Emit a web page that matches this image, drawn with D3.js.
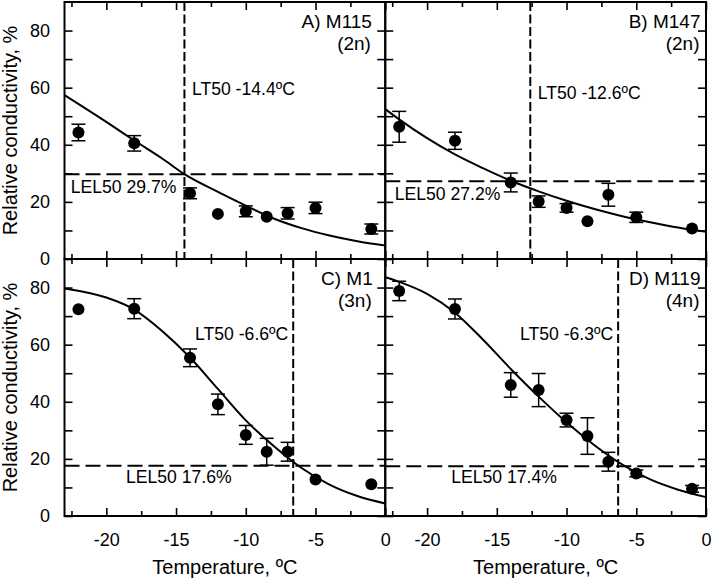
<!DOCTYPE html>
<html><head><meta charset="utf-8">
<script src="https://cdn.jsdelivr.net/npm/d3@7"></script>
<style>
body{margin:0;background:#fff}
svg{display:block}
text{font-family:"Liberation Sans",Arial,sans-serif;fill:#000}
</style>
</head><body>
<svg id="chart" width="714" height="578"></svg>
<script>
// ---------- data ----------
const temps = [-22, -18, -14, -12, -10, -8.5, -7, -5, -1];

const meanA = [44.3, 40.5, 23.0, 15.8, 16.7, 14.8, 16.0, 17.9, 10.5];
const errA  = [2.9, 2.7, 1.9, 0, 1.9, 0, 2.0, 2.0, 1.75];
const meanB = [46.3, 41.4, 26.8, 20.1, 17.9, 13.2, 22.5, 14.6, 10.7];
const errB  = [5.4, 3.0, 3.3, 2.0, 1.5, 0, 4.0, 1.8, 0];
const meanC = [72.4, 72.6, 55.4, 39.1, 28.4, 22.5, 22.5, 12.8, 11.1];
const errC  = [0, 3.5, 3.1, 3.6, 3.3, 4.7, 3.3, 0, 0];
const meanD = [78.8, 72.5, 45.9, 44.1, 33.6, 28.0, 19.0, 14.9, 9.5];
const errD  = [3.4, 3.5, 4.3, 5.8, 2.4, 6.4, 3.3, 1.2, 1.2];

// fitted curves
const fitTempsA = [-23, -20, -18, -16, -14.4, -12, -10, -8, -6, -4, -2, 0];
const fitA      = [57.4, 48.0, 41.5, 35.2, 29.7, 23.5, 18.7, 14.2, 10.8, 8.2, 6.2, 4.7];
const fitTempsB = [-23, -22, -20, -18, -16, -14, -12, -10, -8, -6, -4, -2, 0];
const fitB      = [52.5, 48.9, 42.3, 36.6, 31.8, 27.4, 23.7, 20.4, 17.5, 15.0, 12.9, 11.0, 9.5];
const fitTempsC = [-23, -20, -18, -16, -14, -12, -10, -8, -6, -4, -2, 0];
const fitC      = [79.7, 76.5, 72.3, 64.8, 55.5, 44.5, 33.5, 24.5, 16.8, 11.0, 7.0, 4.4];
const fitTempsD = [-23, -22, -20, -18, -16, -14, -12, -10, -8, -6, -4, -2, 0];
const fitD      = [83.6, 82.0, 77.8, 71.2, 61.8, 51.5, 41.8, 32.8, 24.8, 18.0, 12.8, 9.2, 6.6];

const panelNames = ["A) M115", "B) M147", "C) M1", "D) M119"];
const ploidy     = ["(2n)", "(2n)", "(3n)", "(4n)"];
const lt50       = [-14.4, -12.6, -6.6, -6.3];
const lel50      = [29.7, 27.2, 17.6, 17.4];

const xMajorTicks = [-20, -15, -10, -5, 0];
const xMinorTicks = [-22.5, -17.5, -12.5, -7.5, -2.5];
const yTicks      = [0, 10, 20, 30, 40, 50, 60, 70, 80];
const yTickLabels = [0, 20, 40, 60, 80];
const xTitle = "Temperature, ºC";
const yTitle = "Relative conductivity, %";

// ---------- layout ----------
const L = 64.5, T = 2, PW = 320.75, PH = 257;
const panels = [
  {mean: meanA, err: errA, ft: fitTempsA, fv: fitA, col: 0, row: 0, nameR: 13.3, ltSide: "right", ltY: 93, lelX: 6.2, lelDy: 19},
  {mean: meanB, err: errB, ft: fitTempsB, fv: fitB, col: 1, row: 0, nameR: 5.5, ltSide: "right", ltY: 97, lelX: 9.5, lelDy: 18.7},
  {mean: meanC, err: errC, ft: fitTempsC, fv: fitC, col: 0, row: 1, nameR: 12.5, ltSide: "left", ltY: 81, lelX: 61.5, lelDy: 17},
  {mean: meanD, err: errD, ft: fitTempsD, fv: fitD, col: 1, row: 1, nameR: 5.5, ltSide: "left", ltY: 81, lelX: 66, lelDy: 16.4}
];

const svg = d3.select("#chart");
svg.append("rect").attr("width", 714).attr("height", 578).attr("fill", "#fff");

const str = v => String(v);

panels.forEach((p, i) => {
  const x0 = L + p.col * PW, y0 = T + p.row * PH;
  const x = d3.scaleLinear().domain([-23, 0]).range([x0, x0 + PW]);
  const y = d3.scaleLinear().domain([0, 90]).range([y0 + PH, y0]);
  const g = svg.append("g");
  const showY = p.col === 0, showX = p.row === 1;

  // axes (inward ticks)
  const axes = [
    g.append("g").attr("transform", `translate(0,${y0 + PH})`)
      .call(d3.axisBottom(x).tickValues(xMajorTicks).tickSize(-8).tickPadding(17)
        .tickFormat(showX ? str : () => "")),
    g.append("g").attr("transform", `translate(0,${y0 + PH})`)
      .call(d3.axisBottom(x).tickValues(xMinorTicks).tickSize(-5).tickFormat(() => "")),
    g.append("g").attr("transform", `translate(0,${y0})`)
      .call(d3.axisTop(x).tickValues(xMajorTicks).tickSize(-8).tickFormat(() => "")),
    g.append("g").attr("transform", `translate(0,${y0})`)
      .call(d3.axisTop(x).tickValues(xMinorTicks).tickSize(-5).tickFormat(() => "")),
    g.append("g").attr("transform", `translate(${x0},0)`)
      .call(d3.axisLeft(y).tickValues(yTicks).tickSize(-8).tickPadding(14.5)
        .tickFormat(v => (showY && yTickLabels.includes(v)) ? str(v) : "")),
    g.append("g").attr("transform", `translate(${x0 + PW},0)`)
      .call(d3.axisRight(y).tickValues(yTicks).tickSize(-8).tickFormat(() => ""))
  ];
  axes.forEach(a => {
    a.select(".domain").remove();
    a.selectAll(".tick line").attr("stroke", "#000").attr("stroke-width", 1.6);
    a.selectAll(".tick text").attr("font-size", 18).attr("font-family", '"Liberation Sans",Arial,sans-serif').attr("fill", "#000");
  });

  // LT50 / LEL50 dashed lines
  g.append("line")
    .attr("x1", x(lt50[i])).attr("x2", x(lt50[i]))
    .attr("y1", y(90)).attr("y2", y(0))
    .attr("stroke", "#000").attr("stroke-width", 2).attr("stroke-dasharray", "9,3.5");
  g.append("line")
    .attr("x1", x(-23)).attr("x2", x(0))
    .attr("y1", y(lel50[i])).attr("y2", y(lel50[i]))
    .attr("stroke", "#000").attr("stroke-width", 2).attr("stroke-dasharray", "15,6");

  // fitted curve
  const fitPts = p.ft.map((t, k) => [t, p.fv[k]]);
  g.append("path")
    .attr("d", d3.line().x(d => x(d[0])).y(d => y(d[1])).curve(d3.curveMonotoneX)(fitPts))
    .attr("fill", "none").attr("stroke", "#000").attr("stroke-width", 2);

  // error bars
  const pts = temps.map((t, k) => ({t, v: p.mean[k], e: p.err[k]})).filter(d => d.e > 0);
  const eb = g.append("g").attr("stroke", "#000").attr("stroke-width", 1.5);
  pts.forEach(d => {
    eb.append("line").attr("x1", x(d.t)).attr("x2", x(d.t)).attr("y1", y(d.v - d.e)).attr("y2", y(d.v + d.e));
    [d.v - d.e, d.v + d.e].forEach(v => {
      eb.append("line").attr("x1", x(d.t) - 7).attr("x2", x(d.t) + 7).attr("y1", y(v)).attr("y2", y(v));
    });
  });

  // markers
  g.selectAll("circle.m").data(temps.map((t, k) => ({t, v: p.mean[k]})))
    .join("circle").attr("class", "m")
    .attr("cx", d => x(d.t)).attr("cy", d => y(d.v)).attr("r", 6).attr("fill", "#000");

  // frame
  g.append("rect").attr("x", x0).attr("y", y0).attr("width", PW).attr("height", PH)
    .attr("fill", "none").attr("stroke", "#000").attr("stroke-width", 2);

  // panel labels
  g.append("text").attr("x", x0 + PW - p.nameR).attr("y", y0 + 25.5)
    .attr("text-anchor", "end").attr("font-size", 19).text(panelNames[i]);
  g.append("text").attr("x", x0 + PW - p.nameR - 1).attr("y", y0 + 48)
    .attr("text-anchor", "end").attr("font-size", 19).text(ploidy[i]);

  // annotations
  const ltTxt = "LT50 " + lt50[i].toFixed(1) + "ºC";
  g.append("text")
    .attr("x", p.ltSide === "right" ? x(lt50[i]) + 7.5 : x(lt50[i]) - 5)
    .attr("y", y0 + p.ltY)
    .attr("text-anchor", p.ltSide === "right" ? "start" : "end")
    .attr("font-size", 17.6).text(ltTxt);
  g.append("text")
    .attr("x", x0 + p.lelX)
    .attr("y", y(lel50[i]) + p.lelDy)
    .attr("font-size", 17.6).text("LEL50 " + lel50[i].toFixed(1) + "%");

  // axis titles
  if (showX) {
    g.append("text").attr("x", x0 + PW / 2).attr("y", y0 + PH + 57.5)
      .attr("text-anchor", "middle").attr("font-size", 20).text(xTitle);
  }
  if (showY) {
    g.append("text").attr("transform", `translate(17,${y0 + PH / 2}) rotate(-90)`)
      .attr("text-anchor", "middle").attr("font-size", 20).text(yTitle);
  }
});
</script>
</body></html>
